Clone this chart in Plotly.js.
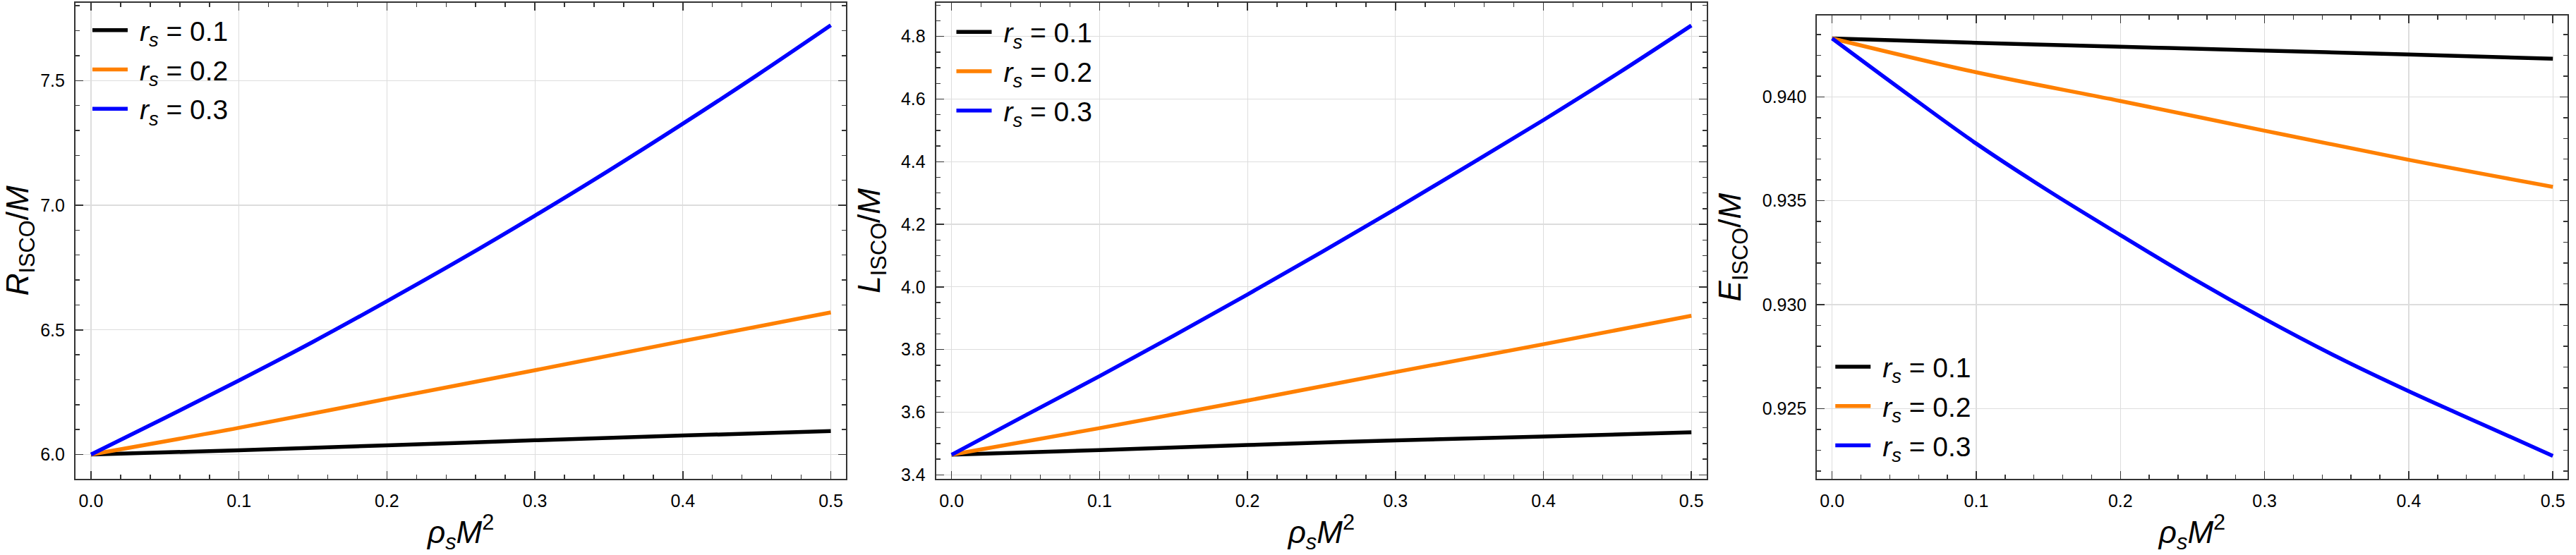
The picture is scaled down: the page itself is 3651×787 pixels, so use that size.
<!DOCTYPE html>
<html>
<head>
<meta charset="utf-8">
<script src="https://cdn.plot.ly/plotly-3.0.1.min.js"></script>
<style>html,body{margin:0;padding:0;background:#fff;}#chart{width:3651px;height:787px;}</style>
</head>
<body>
<div id="chart"></div>
<script>
// ---- data ----
const seriesNames = ["<i>r<sub>s</sub></i> = 0.1", "<i>r<sub>s</sub></i> = 0.2", "<i>r<sub>s</sub></i> = 0.3"];
const seriesColors = ["#000000", "#FF8000", "#0000FF"];

const rhoCoarse = [0.0, 0.1, 0.2, 0.3, 0.4, 0.5];
const rhoFine = [0.0, 0.05, 0.1, 0.15, 0.2, 0.25, 0.3, 0.35, 0.4, 0.45, 0.5];

// R_ISCO / M
const R_rs01 = [6.000, 6.017, 6.037, 6.057, 6.076, 6.094];
const R_rs02 = [6.000, 6.107, 6.223, 6.338, 6.455, 6.570];
const R_rs03 = [6.000, 6.147, 6.297, 6.452, 6.615, 6.783, 6.958, 7.139, 7.327, 7.521, 7.722];

// L_ISCO / M
const L_rs01 = [3.4641, 3.479, 3.495, 3.510, 3.522, 3.536];
const L_rs02 = [3.4641, 3.549, 3.637, 3.728, 3.817, 3.908];
const L_rs03 = [3.4641, 3.590, 3.715, 3.844, 3.976, 4.111, 4.249, 4.390, 4.533, 4.681, 4.835];

// E_ISCO / M
const E_rs01 = [0.94281, 0.94260, 0.94241, 0.94222, 0.94204, 0.94183];
const E_rs02 = [0.94281, 0.94118, 0.93980, 0.93837, 0.93697, 0.93567];
const E_rs03 = [0.94281, 0.94025, 0.93775, 0.93548, 0.93335, 0.93127, 0.92932, 0.92750, 0.92584, 0.92428, 0.92273];

const xTickLabels = ["0.0", "0.1", "0.2", "0.3", "0.4", "0.5"];
const xTitle = "<i>ρ<sub>s</sub>M</i><sup>2</sup>";
const yTitles = ["<i>R</i><sub>ISCO</sub>/<i>M</i>", "<i>L</i><sub>ISCO</sub>/<i>M</i>", "<i>E</i><sub>ISCO</sub>/<i>M</i>"];

// ---- traces ----
const panels = [
  {xs: [rhoCoarse, rhoCoarse, rhoFine], ys: [R_rs01, R_rs02, R_rs03]},
  {xs: [rhoCoarse, rhoCoarse, rhoFine], ys: [L_rs01, L_rs02, L_rs03]},
  {xs: [rhoCoarse, rhoCoarse, rhoFine], ys: [E_rs01, E_rs02, E_rs03]}
];
const traces = [];
panels.forEach((p, pi) => {
  for (let s = 0; s < 3; s++) {
    traces.push({
      type: "scatter", mode: "lines",
      x: p.xs[s], y: p.ys[s],
      name: seriesNames[s],
      line: {color: seriesColors[s], width: 5.5, shape: "spline", smoothing: 1},
      xaxis: pi === 0 ? "x" : "x" + (pi + 1),
      yaxis: pi === 0 ? "y" : "y" + (pi + 1),
      legend: pi === 0 ? "legend" : "legend" + (pi + 1),
      legendgroup: "p" + pi + "s" + s
    });
  }
});

const FONT = "Liberation Sans, Arial, sans-serif";
const frame = "#333333";
function xaxis(domain, range, anchor) {
  return {
    domain: domain, range: range, anchor: anchor,
    tickmode: "array", tickvals: rhoCoarse, ticktext: xTickLabels,
    ticks: "inside", ticklen: 11, tickwidth: 1.5, tickcolor: frame,
    minor: {dtick: 0.02, tick0: 0, ticks: "inside", ticklen: 6, tickwidth: 1.5, tickcolor: frame, showgrid: false},
    showline: true, linecolor: frame, linewidth: 2, mirror: "allticks",
    showgrid: true, gridcolor: "#dddddd", gridwidth: 1.2, zeroline: false,
    tickfont: {family: FONT, size: 25, color: "#000"},
    ticklabelstandoff: 8,
    title: {text: xTitle, font: {family: FONT, size: 44, color: "#000"}, standoff: 16}
  };
}
function yaxis(domain, range, anchor, dtick, minorDtick, fmt, title, standoff) {
  return {
    domain: domain, range: range, anchor: anchor,
    dtick: dtick, tick0: 0, tickformat: fmt,
    ticks: "inside", ticklen: 11, tickwidth: 1.5, tickcolor: frame,
    minor: {dtick: minorDtick, tick0: 0, ticks: "inside", ticklen: 6, tickwidth: 1.5, tickcolor: frame, showgrid: false},
    showline: true, linecolor: frame, linewidth: 2, mirror: "allticks",
    showgrid: true, gridcolor: "#dddddd", gridwidth: 1.2, zeroline: false,
    tickfont: {family: FONT, size: 25, color: "#000"},
    ticklabelstandoff: 8,
    title: {text: title, font: {family: FONT, size: 44, color: "#000"}, standoff: standoff}
  };
}
function legend(x, y, yanchor) {
  return {
    x: x, y: y, xanchor: "left", yanchor: yanchor,
    font: {family: FONT, size: 39, color: "#000"},
    bgcolor: "rgba(255,255,255,0)", borderwidth: 0,
    itemwidth: 62, tracegroupgap: 2
  };
}

const layout = {
  width: 3651, height: 787,
  margin: {l: 0, r: 0, t: 0, b: 0},
  paper_bgcolor: "#ffffff", plot_bgcolor: "#ffffff",
  showlegend: true,
  xaxis:  xaxis([0.029307, 0.328485], [-0.01049, 0.51039], "y"),
  xaxis2: xaxis([0.363380, 0.662558], [-0.01049, 0.51039], "y2"),
  xaxis3: xaxis([0.705369, 0.996631], [-0.01047, 0.51003], "y3"),
  yaxis:  yaxis([0.137611, 0.994917], [5.9032, 7.812], "x", 0.5, 0.1, ".1f", yTitles[0], 16),
  yaxis2: yaxis([0.137611, 0.994917], [3.3878, 4.9074], "x2", 0.2, 0.05, ".1f", yTitles[1], 16),
  yaxis3: yaxis([0.137230, 0.971665], [0.921625, 0.943901], "x3", 0.005, 0.001, ".3f", yTitles[2], 16),
  legend:  legend(0.0345, 0.986, "top"),
  legend2: legend(0.3699, 0.983, "top"),
  legend3: legend(0.7111, 0.156, "bottom")
};

function longLegendLines() {
  document.querySelectorAll("#chart .legendlines path").forEach(p => p.setAttribute("d", "M5,0h50"));
}
Plotly.newPlot("chart", traces, layout, {staticPlot: true, displayModeBar: false}).then(gd => {
  longLegendLines();
  gd.on && gd.on("plotly_afterplot", longLegendLines);
});
</script>
</body>
</html>
